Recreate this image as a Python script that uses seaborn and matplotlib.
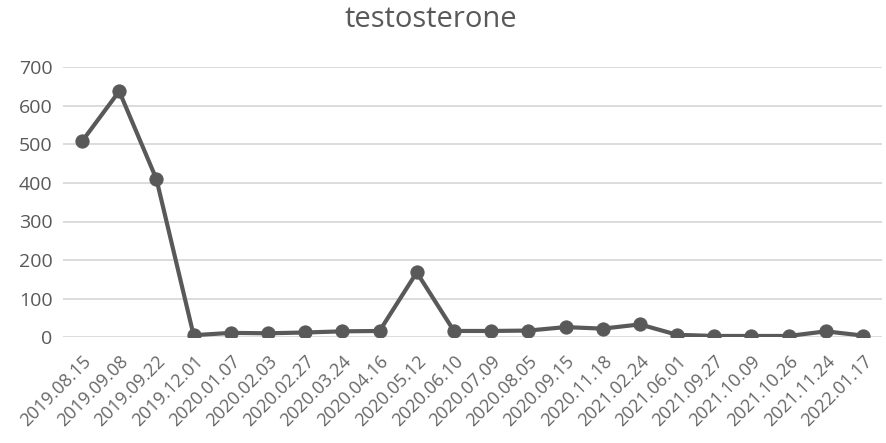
import matplotlib
matplotlib.use("Agg")
import matplotlib.pyplot as plt
import seaborn as sns
import pandas as pd

dates = ["2019.08.15", "2019.09.08", "2019.09.22", "2019.12.01", "2020.01.07",
         "2020.02.03", "2020.02.27", "2020.03.24", "2020.04.16", "2020.05.12",
         "2020.06.10", "2020.07.09", "2020.08.05", "2020.09.15", "2020.11.18",
         "2021.02.24", "2021.06.01", "2021.09.27", "2021.10.09", "2021.10.26",
         "2021.11.24", "2022.01.17"]
testosterone = [508, 638, 410, 5, 11, 10, 12, 15, 16, 168,
                16, 16, 17, 26, 22, 33, 6, 3, 3, 3, 15, 4]
yticks = [0, 100, 200, 300, 400, 500, 600, 700]

df = pd.DataFrame({"date": dates, "value": testosterone})

sns.set_theme(style="white")
plt.rcParams["font.family"] = ["Open Sans", "DejaVu Sans"]

fig = plt.figure(figsize=(8.86, 4.43), dpi=100)
ax = fig.add_axes([0.0716, 0.239, 0.9235, 0.609])

line_color = "#595959"
sns.lineplot(data=df, x="date", y="value", ax=ax, color=line_color,
             linewidth=3.0, marker="o", markersize=9.5,
             markeredgecolor=line_color, markerfacecolor=line_color, sort=False)

ax.set_xlim(-0.5, len(dates) - 0.5)
ax.set_ylim(0, 700)
ax.set_yticks(yticks)
ax.set_yticklabels([str(v) for v in yticks])
ax.set_xticks(range(len(dates)))
ax.set_xticklabels(dates, rotation=45, ha="right", rotation_mode="anchor")
ax.yaxis.grid(True, color="#d9d9d9", linewidth=1.3)
ax.set_axisbelow(True)
for s in ax.spines.values():
    s.set_visible(False)
ax.set_xlabel("")
ax.set_ylabel("")
ax.tick_params(axis="y", labelsize=14, labelcolor="#595959", length=0, pad=8)
ax.tick_params(axis="x", labelsize=13, labelcolor="#666666", length=0, pad=11)

fig.text(0.486, 0.955, "testosterone", ha="center", va="center",
         fontsize=21, color="#595959")

fig.savefig("out.png", dpi=100)
